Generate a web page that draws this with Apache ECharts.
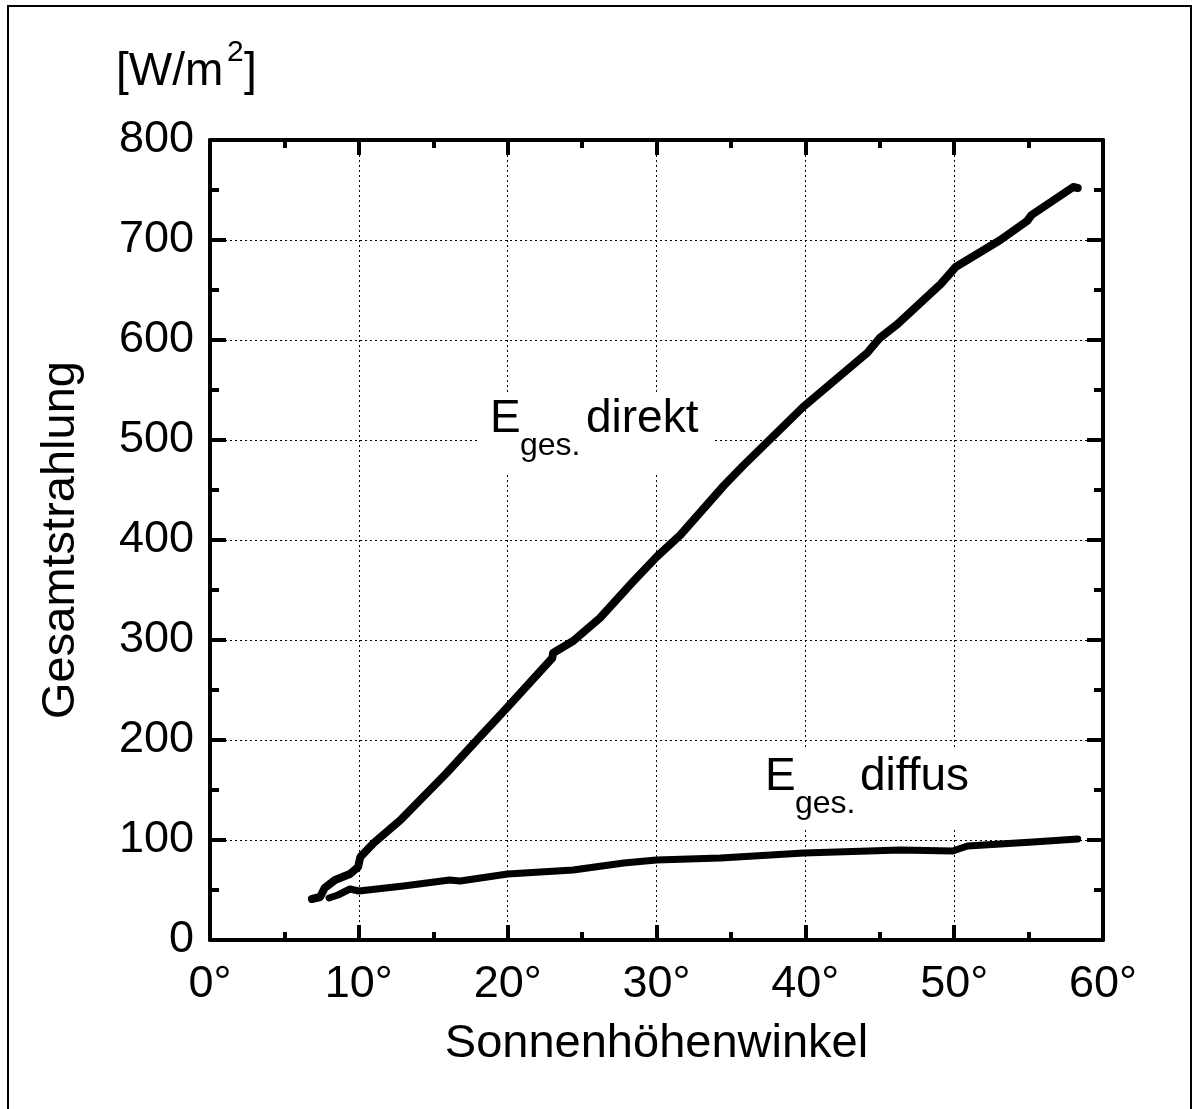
<!DOCTYPE html>
<html>
<head>
<meta charset="utf-8">
<title>Gesamtstrahlung</title>
<script src="https://cdn.jsdelivr.net/npm/echarts@6/dist/echarts.min.js"></script>
<style>
  html, body { margin: 0; padding: 0; background: #fff; }
  #chart { width: 1195px; height: 1109px; }
</style>
</head>
<body>
<div id="chart"></div>
<script>
// Sonnenhöhenwinkel [°] / Gesamtstrahlung [W/m2]
var direktAngle = [6.85, 7.4, 7.7, 8.4, 9.4, 9.95, 10.1, 11.0, 12.8, 15.9, 18.0, 20.0, 23.0, 23.05, 24.4, 26.2, 28.4, 30.0, 31.6, 34.5, 35.8, 39.85, 44.15, 45.0, 46.2, 49.1, 50.1, 53.1, 54.9, 55.2, 58.0, 58.3];
var direktValue = [41, 43, 52, 60, 66, 73, 83, 97, 120, 167, 201, 233, 282, 287, 299, 322, 358, 383, 405, 454, 474, 533, 587, 602, 616, 656, 673, 700, 719, 725, 753, 752];

var diffusAngle = [8.0, 8.6, 9.4, 10.0, 13.0, 16.1, 16.8, 20.0, 24.4, 27.8, 30.0, 34.3, 39.9, 46.4, 49.9, 50.9, 55.3, 58.3];
var diffusValue = [42, 45, 51, 49, 54, 60, 59, 66, 70, 77, 80, 82, 87, 90, 89, 94, 98, 101];

var xTicks = [0, 10, 20, 30, 40, 50, 60];
var yTicks = [0, 100, 200, 300, 400, 500, 600, 700, 800];

function pairs(xs, ys) {
  var out = [];
  for (var i = 0; i < xs.length; i++) out.push([xs[i], ys[i]]);
  return out;
}

var FONT = '"Liberation Sans", Arial, Helvetica, sans-serif';
var chart = echarts.init(document.getElementById('chart'));

// frame axes: same scale, inward ticks, never moved to zero
function xAxisDef(pos) {
  return {
    type: 'value',
    position: pos,
    min: xTicks[0],
    max: xTicks[xTicks.length - 1],
    interval: 10,
    axisLine: { show: true, onZero: false, lineStyle: { color: '#000', width: 4 } },
    axisTick: { show: true, inside: true, length: 15, lineStyle: { color: '#000', width: 4 } },
    minorTick: { show: true, splitNumber: 2, length: 8, lineStyle: { color: '#000', width: 4 } }
  };
}
function yAxisDef(pos) {
  return {
    type: 'value',
    position: pos,
    min: yTicks[0],
    max: yTicks[yTicks.length - 1],
    interval: 100,
    axisLine: { show: true, onZero: false, lineStyle: { color: '#000', width: 4 } },
    axisTick: { show: true, inside: true, length: 16, lineStyle: { color: '#000', width: 4 } },
    minorTick: { show: true, splitNumber: 2, length: 9, lineStyle: { color: '#000', width: 4 } }
  };
}

var xBottom = xAxisDef('bottom');
xBottom.name = 'Sonnenhöhenwinkel';
xBottom.nameLocation = 'middle';
xBottom.nameGap = 81;
xBottom.nameTextStyle = { color: '#000', fontSize: 47, fontFamily: FONT };
xBottom.axisLabel = {
  color: '#000', fontSize: 45, fontFamily: FONT, margin: 22,
  formatter: function (v) { return v + '°'; }
};
xBottom.splitLine = { show: true, lineStyle: { color: '#000', width: 1, type: [2, 3] } };

var xTop = xAxisDef('top');
xTop.axisLabel = { show: false };
xTop.splitLine = { show: false };

var yLeft = yAxisDef('left');
yLeft.name = 'Gesamtstrahlung';
yLeft.nameLocation = 'middle';
yLeft.nameGap = 125;
yLeft.nameRotate = 90;
yLeft.nameTextStyle = { color: '#000', fontSize: 47, fontFamily: FONT };
yLeft.axisLabel = { color: '#000', fontSize: 45, fontFamily: FONT, margin: 16 };
yLeft.splitLine = { show: true, lineStyle: { color: '#000', width: 1, type: [2, 3] } };

var yRight = yAxisDef('right');
yRight.axisLabel = { show: false };
yRight.splitLine = { show: false };

chart.setOption({
  backgroundColor: '#fff',
  animation: false,
  grid: { left: 210, top: 140, width: 893, height: 800, containLabel: false },
  xAxis: [xBottom, xTop],
  yAxis: [yLeft, yRight],
  series: [
    {
      name: 'Eges. direkt',
      type: 'line',
      data: pairs(direktAngle, direktValue),
      showSymbol: false,
      symbol: 'none',
      lineStyle: { color: '#000', width: 8, cap: 'round', join: 'round' },
      z: 5
    },
    {
      name: 'Eges. diffus',
      type: 'line',
      data: pairs(diffusAngle, diffusValue),
      showSymbol: false,
      symbol: 'none',
      lineStyle: { color: '#000', width: 7, cap: 'round', join: 'round' },
      z: 5
    }
  ],
  graphic: [
    // outer frame
    { type: 'rect', shape: { x: 8, y: 6, width: 1183, height: 1120 },
      style: { fill: 'none', stroke: '#000', lineWidth: 2 }, z: 1 },
    // unit label
    { type: 'text', style: { text: '[W/m', x: 116, y: 72, font: '46px ' + FONT, fill: '#000', verticalAlign: 'middle' }, z: 10 },
    { type: 'text', style: { text: '2', x: 227, y: 53, font: '30px ' + FONT, fill: '#000', verticalAlign: 'middle' }, z: 10 },
    { type: 'text', style: { text: ']', x: 244, y: 72, font: '46px ' + FONT, fill: '#000', verticalAlign: 'middle' }, z: 10 },
    // label direkt, white box hides grid lines behind it
    { type: 'rect', shape: { x: 478, y: 395, width: 236, height: 77 }, style: { fill: '#fff' }, z: 3 },
    { type: 'text', style: { text: 'E', x: 490, y: 419, font: '46px ' + FONT, fill: '#000', verticalAlign: 'middle' }, z: 10 },
    { type: 'text', style: { text: 'ges.', x: 520, y: 446, font: '32px ' + FONT, fill: '#000', verticalAlign: 'middle' }, z: 10 },
    { type: 'text', style: { text: 'direkt', x: 586, y: 419, font: '46px ' + FONT, fill: '#000', verticalAlign: 'middle' }, z: 10 },
    // label diffus
    { type: 'rect', shape: { x: 755, y: 747, width: 222, height: 80 }, style: { fill: '#fff' }, z: 3 },
    { type: 'text', style: { text: 'E', x: 765, y: 777, font: '46px ' + FONT, fill: '#000', verticalAlign: 'middle' }, z: 10 },
    { type: 'text', style: { text: 'ges.', x: 795, y: 804, font: '32px ' + FONT, fill: '#000', verticalAlign: 'middle' }, z: 10 },
    { type: 'text', style: { text: 'diffus', x: 860, y: 777, font: '46px ' + FONT, fill: '#000', verticalAlign: 'middle' }, z: 10 }
  ]
});
</script>
</body>
</html>
